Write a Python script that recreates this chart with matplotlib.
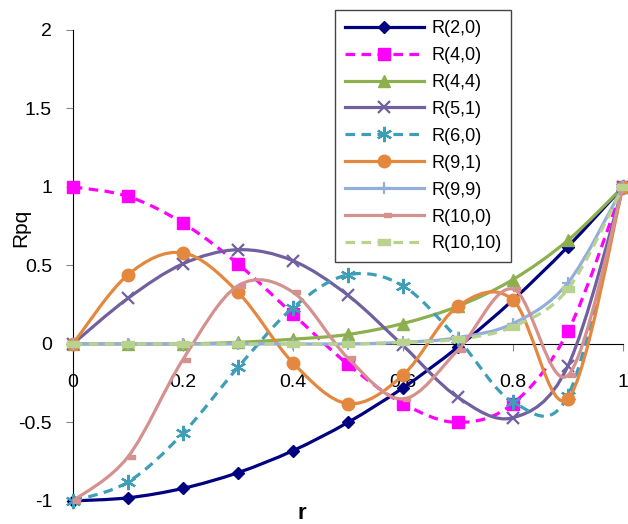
import numpy as np
import matplotlib
matplotlib.use('Agg')
import matplotlib.pyplot as plt
from matplotlib.path import Path
from matplotlib.patches import PathPatch
from matplotlib.lines import Line2D

plt.rcParams['font.family'] = ['Liberation Sans', 'DejaVu Sans']

# values read at r = 0, 0.1, ..., 1
r = [0, 0.1, 0.2, 0.3, 0.4, 0.5, 0.6, 0.7, 0.8, 0.9, 1.0]
R20 = [-1, -0.98, -0.92, -0.82, -0.68, -0.50, -0.28, -0.02, 0.28, 0.62, 1]
R40 = [1, 0.94, 0.77, 0.51, 0.19, -0.13, -0.38, -0.50, -0.38, 0.08, 1]
R44 = [0, 0.0, 0.0, 0.01, 0.03, 0.06, 0.13, 0.24, 0.41, 0.66, 1]
R51 = [0, 0.29, 0.51, 0.60, 0.53, 0.31, -0.01, -0.34, -0.47, -0.14, 1]
R60 = [-1, -0.88, -0.57, -0.15, 0.23, 0.44, 0.37, 0.03, -0.37, -0.33, 1]
R91 = [0, 0.44, 0.58, 0.33, -0.12, -0.38, -0.20, 0.24, 0.28, -0.35, 1]
R99 = [0, 0.0, 0.0, 0.0, 0.0, 0.0, 0.01, 0.04, 0.13, 0.39, 1]
R100 = [-1, -0.72, -0.10, 0.37, 0.33, -0.09, -0.35, -0.04, 0.35, -0.20, 1]
R1010 = [0, 0.0, 0.0, 0.0, 0.0, 0.0, 0.01, 0.03, 0.11, 0.35, 1]

labels = ['R(2,0)', 'R(4,0)', 'R(4,4)', 'R(5,1)', 'R(6,0)',
          'R(9,1)', 'R(9,9)', 'R(10,0)', 'R(10,10)']
series = [R20, R40, R44, R51, R60, R91, R99, R100, R1010]

dash_right = Path([(0, -0.28), (1, -0.28), (1, 0.28), (0, 0.28), (0, -0.28)],
                  [Path.MOVETO, Path.LINETO, Path.LINETO, Path.LINETO, Path.CLOSEPOLY])
bar = Path([(-1, -0.45), (1, -0.45), (1, 0.45), (-1, 0.45), (-1, -0.45)],
           [Path.MOVETO, Path.LINETO, Path.LINETO, Path.LINETO, Path.CLOSEPOLY])

# color, linestyle, marker, markersize
styles = [
    ('#000080', '-', 'D', 6),
    ('#FF00FF', (0, (3, 2)), 's', 8),
    ('#8DB04E', '-', '^', 8),
    ('#7160A0', '-', 'x', 8),
    ('#3E9EB8', (0, (3, 2)), (6, 2, 0), 11),
    ('#E4873F', '-', 'o', 9),
    ('#92AEDA', '-', '+', 9),
    ('#D4918E', '-', dash_right, 10),
    ('#B9D38F', (0, (3, 2)), bar, 9),
]


def smooth_path(x, y, t=1/6):
    # bezier curve through the points (like Excel smoothed lines)
    pts = np.column_stack([x, y]).astype(float)
    verts = [pts[0]]
    codes = [Path.MOVETO]
    n = len(pts)
    for i in range(n - 1):
        p0 = pts[i - 1] if i > 0 else pts[i]
        p1 = pts[i]
        p2 = pts[i + 1]
        p3 = pts[i + 2] if i + 2 < n else pts[i + 1]
        c1 = p1 + (p2 - p0) * t
        c2 = p2 - (p3 - p1) * t
        verts += [c1, c2, p2]
        codes += [Path.CURVE4] * 3
    return Path(verts, codes)


fig = plt.figure(figsize=(6.28, 5.24), dpi=100)
ax = fig.add_axes([0.116, 0.044, 0.876, 0.899])

handles = []
for k, (vals, lab, st) in enumerate(zip(series, labels, styles)):
    col, ls, mk, ms = st
    patch = PathPatch(smooth_path(r, vals), fill=False, edgecolor=col,
                      linewidth=2.3, linestyle=ls, zorder=2 + k,
                      capstyle='butt', clip_on=False)
    ax.add_patch(patch)
    mew = 1.6 if mk in ('x', '+') or isinstance(mk, tuple) else 1
    ax.plot(r, vals, linestyle='none', marker=mk, markersize=ms,
            color=col, markeredgecolor=col, markeredgewidth=mew,
            zorder=2.5 + k, clip_on=False)
    handles.append(Line2D([], [], color=col, linestyle=ls, linewidth=2.3,
                          marker=mk, markersize=ms, markeredgewidth=mew))

ax.set_xlim(0, 1)
ax.set_ylim(-1, 2)
ax.set_xticks([0, 0.2, 0.4, 0.6, 0.8, 1])
ax.set_xticklabels(['0', '0.2', '0.4', '0.6', '0.8', '1'])
ax.set_yticks([-1, -0.5, 0, 0.5, 1, 1.5, 2])
ax.set_yticklabels(['-1', '-0.5', '0', '0.5', '1', '1.5', '2'])

ax.spines['top'].set_visible(False)
ax.spines['right'].set_visible(False)
ax.spines['bottom'].set_position(('data', 0))
ax.spines['bottom'].set_color('black')
ax.spines['left'].set_color('black')
ax.tick_params(axis='both', labelsize=14, color='#888888', length=5)
ax.tick_params(axis='x', direction='out', pad=17)
ax.tick_params(axis='y', pad=10)

# axis titles
fig.text(0.033, 0.565, 'Rpq', fontsize=15, rotation=90, ha='center', va='center')
fig.text(0.48, 0.01, 'r', fontsize=16, fontweight='bold', ha='center')

leg = ax.legend(handles, labels, loc='upper left',
                bbox_to_anchor=(0.476, 1.042), fontsize=13, handlelength=4.4,
                labelspacing=0.55, borderpad=0.55, handletextpad=0.4,
                borderaxespad=0, fancybox=False, framealpha=1,
                edgecolor='#444444')
leg.get_frame().set_linewidth(1)
leg.set_zorder(20)

fig.savefig('out.png', dpi=100)
